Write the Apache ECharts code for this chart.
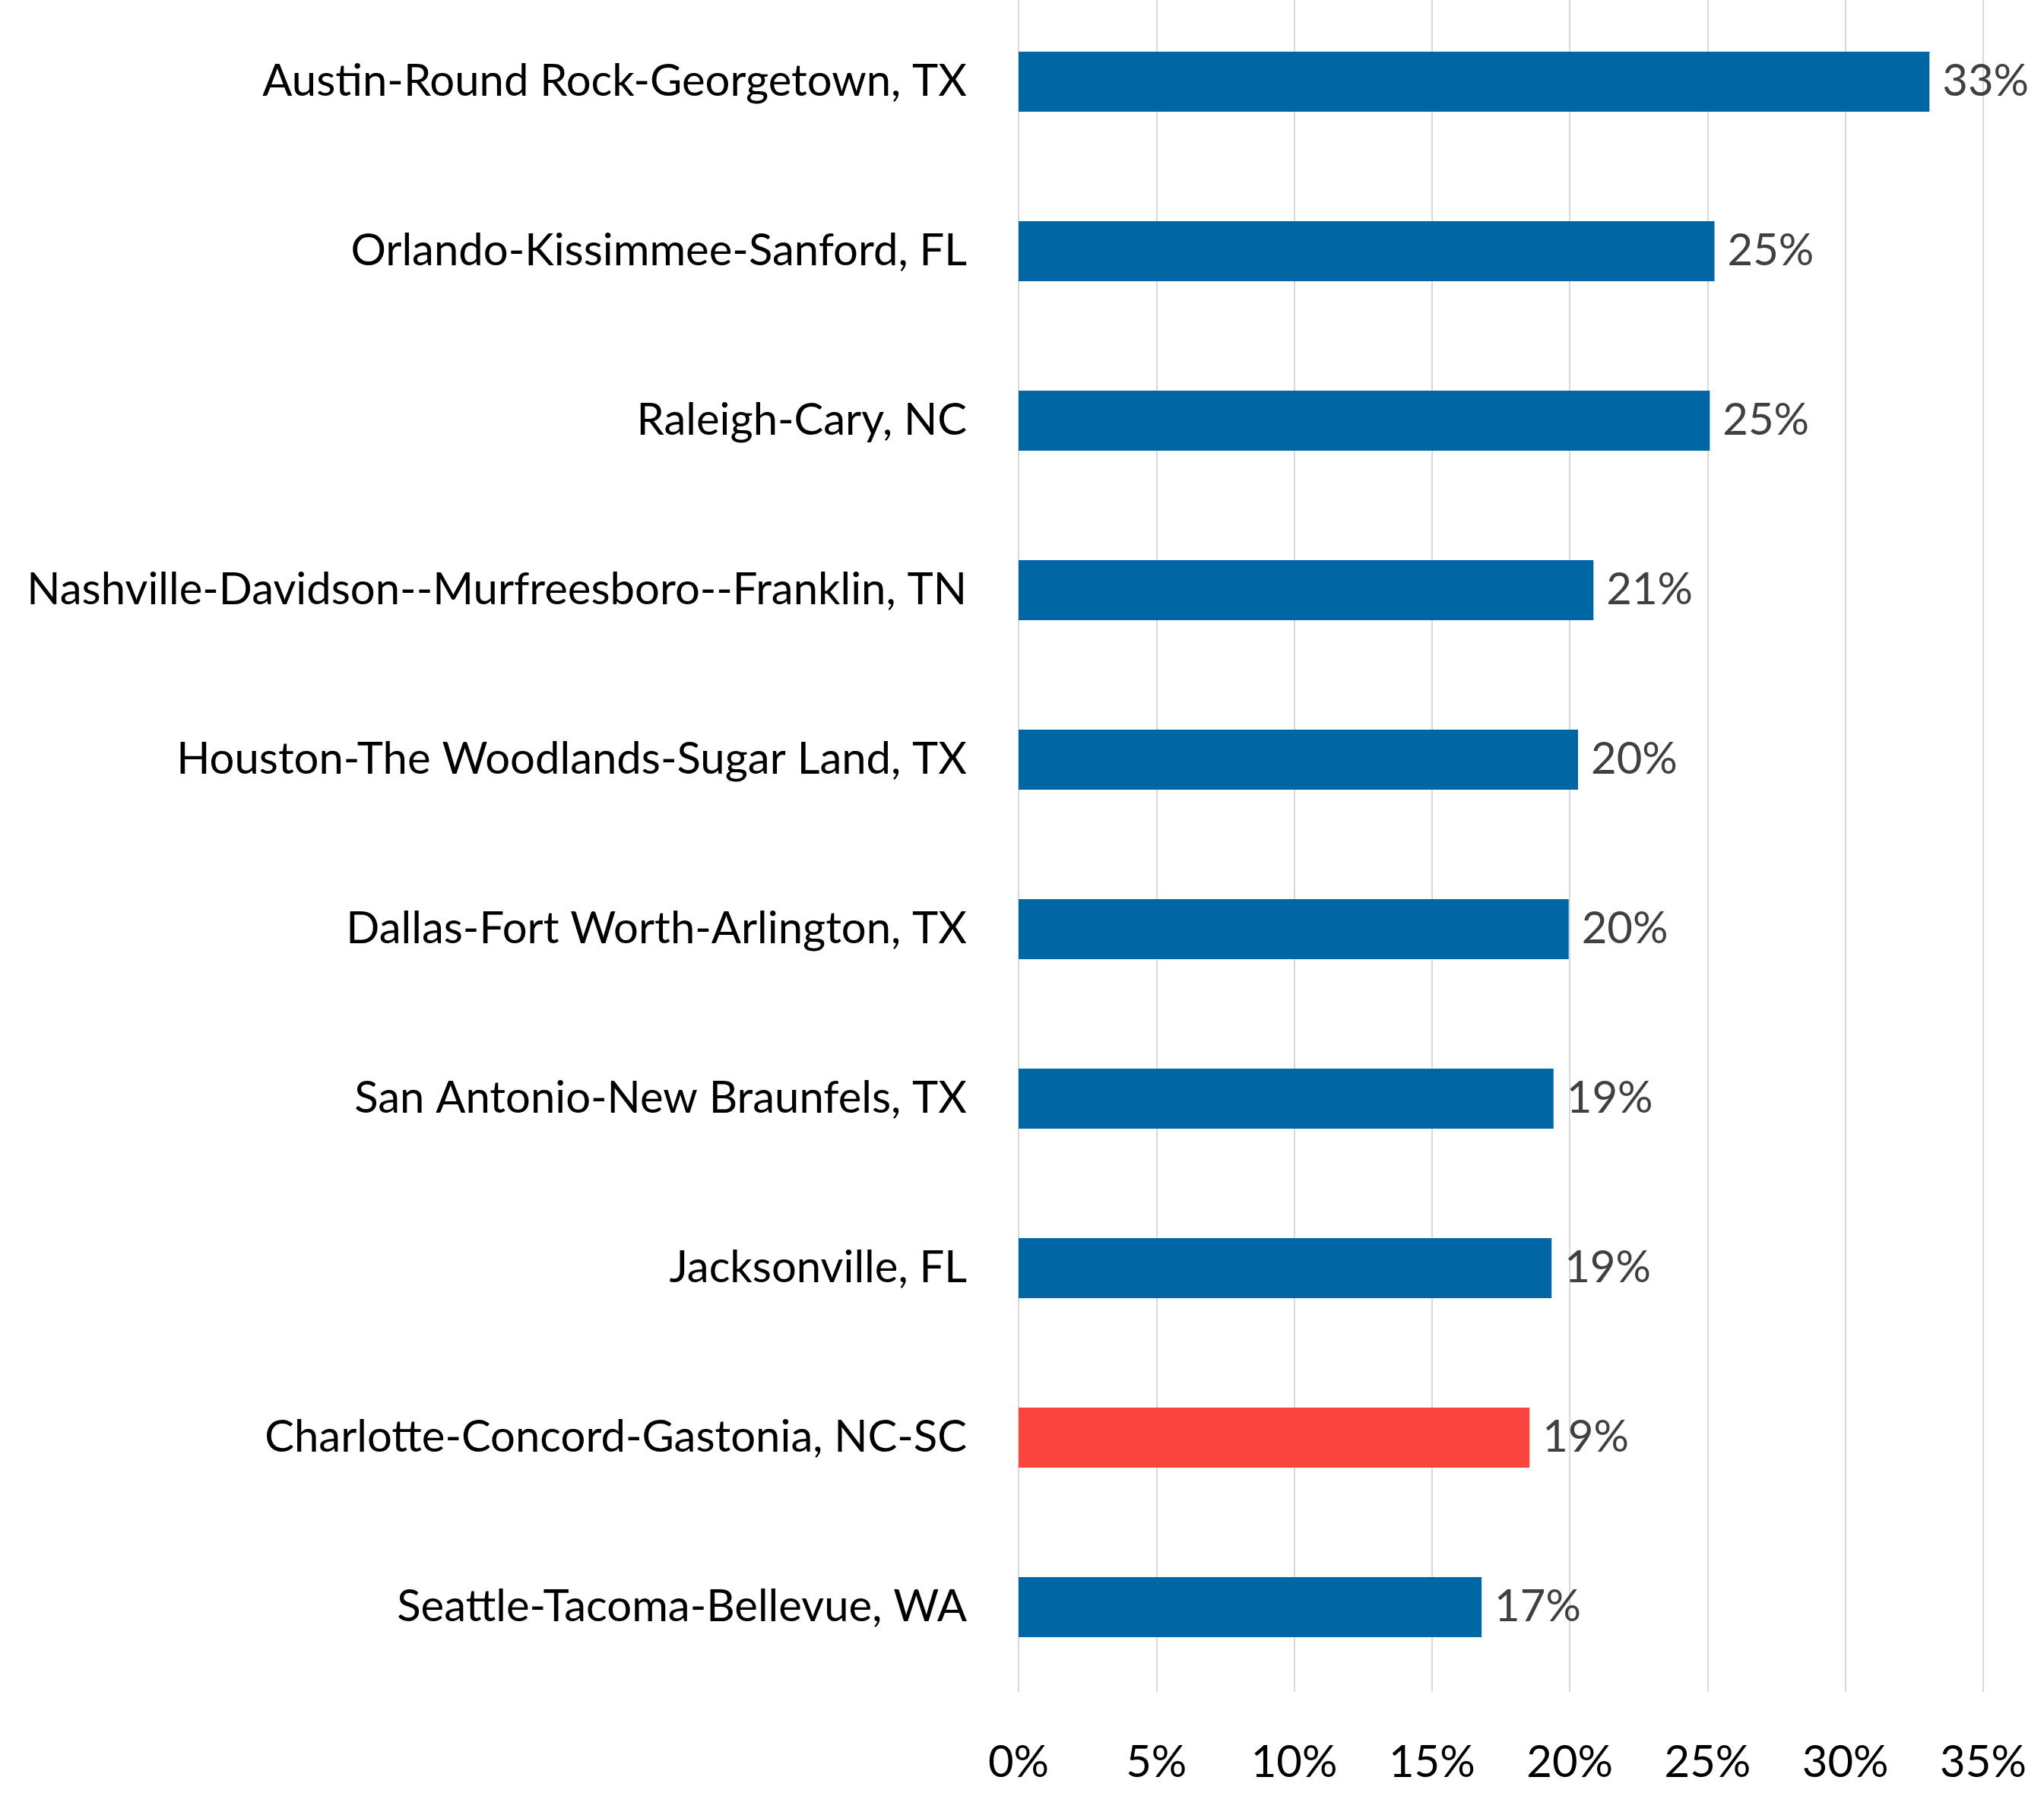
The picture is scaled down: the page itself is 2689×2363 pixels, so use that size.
<!DOCTYPE html>
<html>
<head>
<meta charset="utf-8">
<script src="https://cdn.jsdelivr.net/npm/echarts@6/dist/echarts.min.js"></script>
<style>
  html, body { margin: 0; padding: 0; background: #fff; }
  #chart { width: 2689px; height: 2363px; }
</style>
</head>
<body>
<div id="chart"></div>
<script>
// metro areas, top to bottom
const metros = [
  'Austin-Round Rock-Georgetown, TX',
  'Orlando-Kissimmee-Sanford, FL',
  'Raleigh-Cary, NC',
  'Nashville-Davidson--Murfreesboro--Franklin, TN',
  'Houston-The Woodlands-Sugar Land, TX',
  'Dallas-Fort Worth-Arlington, TX',
  'San Antonio-New Braunfels, TX',
  'Jacksonville, FL',
  'Charlotte-Concord-Gastonia, NC-SC',
  'Seattle-Tacoma-Bellevue, WA'
]
// growth in percent
const growth = [33.05, 25.25, 25.08, 20.86, 20.3, 19.96, 19.41, 19.34, 18.54, 16.8]
const highlight = 'Charlotte-Concord-Gastonia, NC-SC'

const BLUE = '#0066a4'
const RED = '#f9453e'
const FONT = 'Lato, sans-serif'

const chart = echarts.init(document.getElementById('chart'))

const option = {
  backgroundColor: '#fff',
  animation: false,
  grid: {
    left: 1340,
    right: 80,
    top: -4,
    height: 2230,
    containLabel: false,
    outerBoundsMode: 'none'
  },
  xAxis: {
    type: 'value',
    min: 0,
    max: 35,
    interval: 5,
    axisLine: { show: false },
    axisTick: { show: false },
    splitLine: { lineStyle: { color: '#d9d9d9', width: 2 } },
    axisLabel: {
      formatter: '{value}%',
      color: '#000',
      fontFamily: FONT,
      fontSize: 58,
      margin: 64
    }
  },
  yAxis: {
    type: 'category',
    inverse: true,
    data: metros,
    axisLine: { show: false },
    axisTick: { show: false },
    axisLabel: {
      color: '#000',
      fontFamily: FONT,
      fontSize: 58,
      margin: 68
    }
  },
  series: [
    {
      type: 'bar',
      barWidth: 79,
      data: growth.map((v, i) => ({
        value: v,
        itemStyle: { color: metros[i] === highlight ? RED : BLUE }
      })),
      label: {
        show: true,
        position: 'right',
        distance: 17,
        color: '#404040',
        fontFamily: FONT,
        fontSize: 58,
        formatter: p => Math.round(p.value) + '%'
      }
    }
  ]
}

chart.setOption(option)
</script>
</body>
</html>
